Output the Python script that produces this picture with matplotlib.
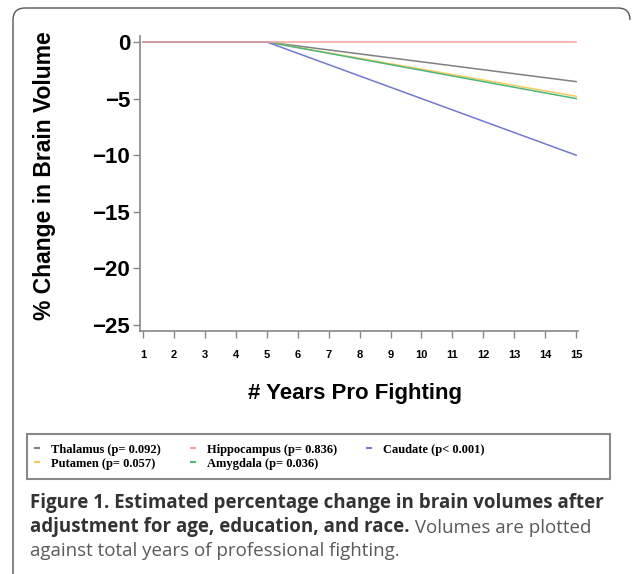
import matplotlib
matplotlib.use("Agg")
import matplotlib.pyplot as plt
from matplotlib.lines import Line2D
from matplotlib.patches import Rectangle, PathPatch
from matplotlib.path import Path

# knot points of the fitted curves (flat up to year 5, then linear)
years = [1, 5, 15]
thalamus = [0, 0, -3.5]
hippocampus = [0, 0, 0]
caudate = [0, 0, -10]
putamen = [0, 0, -4.8]
amygdala = [0, 0, -5.0]

labels = {
    "thalamus": "Thalamus (p= 0.092)",
    "hippocampus": "Hippocampus (p= 0.836)",
    "caudate": "Caudate (p< 0.001)",
    "putamen": "Putamen (p= 0.057)",
    "amygdala": "Amygdala (p= 0.036)",
}
colors = {
    "thalamus": "#808080",
    "hippocampus": "#f4a09a",
    "caudate": "#7478d0",
    "putamen": "#f8c860",
    "amygdala": "#4cb878",
}
x_ticks = list(range(1, 16))
y_ticks = [0, -5, -10, -15, -20, -25]

W, H = 633, 574
fig = plt.figure(figsize=(W / 100, H / 100), dpi=100)
ax = fig.add_axes([140 / W, 1 - 331 / H, 438 / W, 295 / H])

series = [("thalamus", thalamus), ("putamen", putamen), ("amygdala", amygdala),
          ("caudate", caudate), ("hippocampus", hippocampus)]
for key, vals in series:
    ax.plot(years, vals, color=colors[key], lw=1.1)

ax.set_xlim(0.9, 15.06)
ax.set_ylim(-25.53, 0.53)
for s in ["top", "right"]:
    ax.spines[s].set_visible(False)
for s in ["left", "bottom"]:
    ax.spines[s].set_color("#888888")
    ax.spines[s].set_linewidth(1.2)

ax.set_xticks(x_ticks)
ax.set_xticklabels([str(t) for t in x_ticks], fontsize=8, fontweight="bold",
                   family="Liberation Sans")
ax.set_yticks(y_ticks)
ax.set_yticklabels(["0" if t == 0 else "\u2212" + str(-t) for t in y_ticks],
                   fontsize=16, fontweight="bold", family="Liberation Sans")
ax.tick_params(axis="both", colors="#888888", labelcolor="black", length=5, width=1)
ax.tick_params(axis="y", pad=2)
ax.tick_params(axis="x", pad=9)

fig.text(45 / W, 1 - 176 / H, "% Change in Brain Volume", rotation=90, ha="center",
         va="center", fontsize=16.5, fontweight="bold", family="Liberation Sans")
fig.text(355 / W, 1 - 394 / H, "# Years Pro Fighting", ha="center", va="center",
         fontsize=16, fontweight="bold", family="Liberation Sans")

# outer frame: left and top edges with rounded corners
r = 12
verts = [(13, H), (13, 8 + r), (13, 8), (13 + r, 8), (W - 3 - r, 8), (W - 3, 8),
         (W - 3, 8 + r)]
codes = [Path.MOVETO, Path.LINETO, Path.CURVE3, Path.CURVE3, Path.LINETO,
         Path.CURVE3, Path.CURVE3]
verts = [(x / W, 1 - y / H) for x, y in verts]
fig.patches.append(PathPatch(Path(verts, codes), transform=fig.transFigure,
                             fill=False, edgecolor="#555555", lw=1.0))

# legend box
fig.patches.append(Rectangle((27 / W, 1 - 479 / H), 583 / W, 45 / H,
                             transform=fig.transFigure, fill=False,
                             edgecolor="#888888", lw=1.5))
order = ["thalamus", "putamen", "hippocampus", "amygdala", "caudate"]
handles = [Line2D([], [], color=colors[k], lw=1.5) for k in order]
fig.legend(handles, [labels[k] for k in order], ncol=3, loc="upper left",
           bbox_to_anchor=(26 / W, 1 - 435 / H), frameon=False,
           prop={"family": "Liberation Serif", "weight": "bold", "size": 9},
           handlelength=0.3, handletextpad=1.0, columnspacing=2.4,
           labelspacing=0.15, borderpad=0.2)

# caption
cap = dict(family="Open Sans", fontsize=13.5)
fig.text(30 / W, 1 - 508 / H, "Figure 1. Estimated percentage change in brain volumes after",
         fontweight="bold", color="#333333", va="baseline", **cap)
b2 = fig.text(30 / W, 1 - 532 / H, "adjustment for age, education, and race.",
              fontweight="bold", color="#333333", va="baseline", **cap)
ax.annotate(" Volumes are plotted", xy=(1, 0), xycoords=b2, va="bottom", ha="left",
            color="#5a5a5a", annotation_clip=False, **cap)
fig.text(30 / W, 1 - 556 / H, "against total years of professional fighting.",
         color="#5a5a5a", va="baseline", **cap)

fig.savefig("out.png", dpi=100)
